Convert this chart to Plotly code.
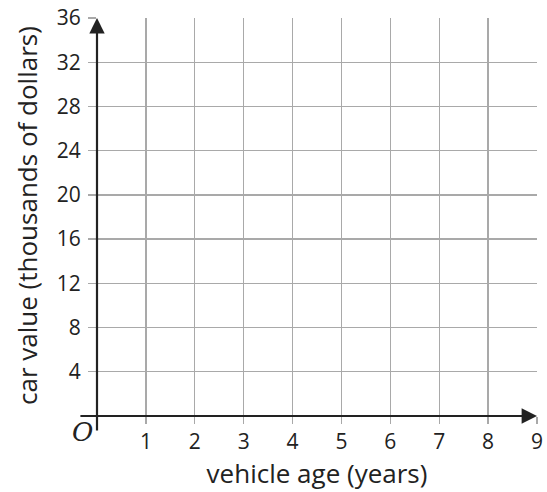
import plotly.graph_objects as go

x_ticks = [1, 2, 3, 4, 5, 6, 7, 8, 9]
y_ticks = [4, 8, 12, 16, 20, 24, 28, 32, 36]
x_range = [0, 9]
y_range = [0, 36]
x_title = "vehicle age (years)"
y_title = "car value (thousands of dollars)"

GRID = "#a9a9a9"
INK = "#222222"
FONT = "Open Sans, Noto Sans, sans-serif"

fig = go.Figure()
fig.add_trace(go.Scatter(x=[], y=[], mode="markers", showlegend=False))

fig.update_layout(
    template="none",
    width=547, height=492,
    margin=dict(l=97, r=10, t=18, b=76, pad=0, autoexpand=False),
    paper_bgcolor="white", plot_bgcolor="white",
    font=dict(family=FONT, size=21, color=INK),
    showlegend=False,
)
fig.update_xaxes(
    range=x_range, tickmode="array", tickvals=x_ticks, ticktext=[str(v) for v in x_ticks],
    showgrid=True, gridcolor=GRID, gridwidth=1.3,
    ticks="outside", ticklen=7, tickcolor=GRID, tickwidth=1.3,
    tickfont=dict(family=FONT, size=21, color=INK), ticklabeloverflow="allow",
    showline=False, zeroline=False, automargin=False,
    title=dict(text=x_title, font=dict(size=26, family=FONT, color=INK), standoff=7),
    fixedrange=True,
)
fig.update_yaxes(
    range=y_range, tickmode="array", tickvals=y_ticks, ticktext=[str(v) for v in y_ticks],
    showgrid=True, gridcolor=GRID, gridwidth=1.3,
    ticks="outside", ticklen=8, tickcolor=GRID, tickwidth=1.3,
    tickfont=dict(family=FONT, size=21, color=INK), ticklabelstandoff=3,
    ticklabeloverflow="allow",
    showline=False, zeroline=False, automargin=False,
    fixedrange=True,
)

# y axis title
fig.add_annotation(x=0, y=0.5, xref="paper", yref="paper", text=y_title,
                   textangle=-90, showarrow=False, xanchor="center", yanchor="middle",
                   xshift=-70, yshift=1,
                   font=dict(size=26, family=FONT, color=INK))

# axis arrows (x axis and y axis drawn with arrowheads)
fig.add_annotation(x=x_range[1], y=0, xref="x", yref="y",
                   ax=-0.37, ay=0, axref="x", ayref="y",
                   showarrow=True, arrowhead=2, arrowsize=1.4, arrowwidth=2.2,
                   arrowcolor=INK, text="", standoff=0, startstandoff=0)
fig.add_annotation(x=0, y=y_range[1], xref="x", yref="y",
                   ax=0, ay=-1.45, axref="x", ayref="y",
                   showarrow=True, arrowhead=2, arrowsize=1.4, arrowwidth=2.2,
                   arrowcolor=INK, text="", standoff=0, startstandoff=0)

# origin label
fig.add_annotation(x=0, y=0, xref="x", yref="y", text="<i>O</i>", showarrow=False,
                   xanchor="right", yanchor="top", xshift=-2, yshift=1,
                   font=dict(family="DejaVu Serif, serif", size=26, color=INK))

fig.write_html(
    "out.html",
    config={"displayModeBar": False, "staticPlot": True},
    post_script="document.body.style.margin='0';document.body.style.overflow='hidden';",
)
